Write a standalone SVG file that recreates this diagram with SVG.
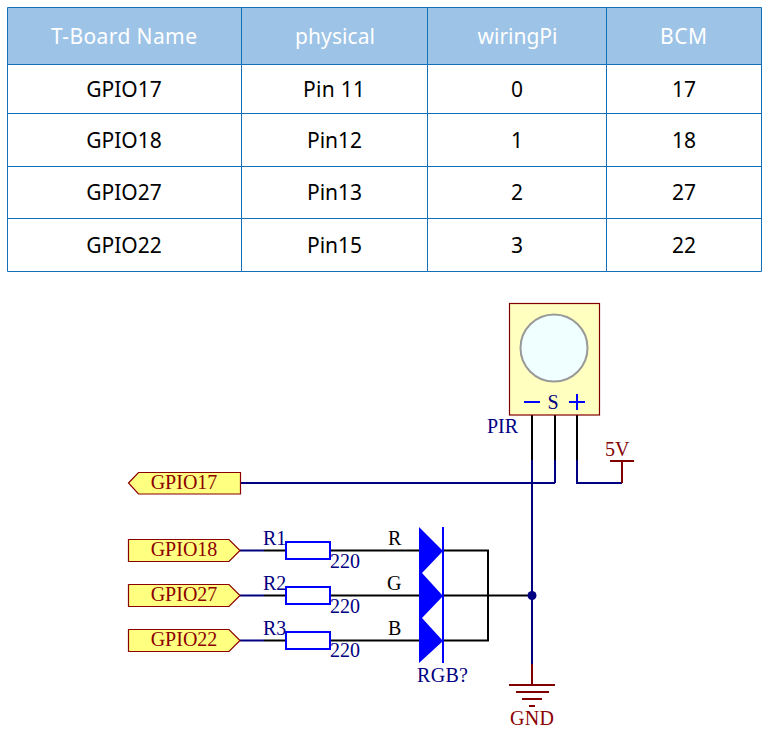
<svg xmlns="http://www.w3.org/2000/svg" width="768" height="743" viewBox="0 0 768 743">
<style>
text{font-family:"Liberation Serif",serif;font-size:20px}
.t{font-family:"Noto Sans","Open Sans",sans-serif;font-size:21px;text-anchor:middle;fill:#000}
.h{fill:#fff}
.g{stroke:#1270b8;stroke-width:1;fill:none}
.lab{fill:#ffff80;stroke:#8b0000;stroke-width:1.2}
.lt{fill:#8b0000;text-anchor:middle}
.b{fill:#000080}
.res{fill:#fff;stroke:#0000ff;stroke-width:2}
.n{stroke:#000080;stroke-width:2;fill:none}
.k{stroke:#000;stroke-width:2;fill:none}
.r{stroke:#800000;stroke-width:2;fill:none}
</style>
<rect width="768" height="743" fill="#fff"/>
<g id="table">
<rect x="7.5" y="7.5" width="754" height="57" fill="#9dc3e6"/>
<path class="g" d="M7.5 7.5H761.5V271.5H7.5ZM7.5 64.5H761.5M7.5 113.5H761.5M7.5 166.5H761.5M7.5 218.5H761.5M241.5 7.5V271.5M427.5 7.5V271.5M606.5 7.5V271.5"/>
<text class="t h" x="124" y="44" textLength="146">T-Board Name</text><text class="t h" x="335" y="44" textLength="80">physical</text><text class="t h" x="517.5" y="44" textLength="80">wiringPi</text><text class="t h" x="683.5" y="44" textLength="47">BCM</text>
<text class="t" x="124" y="97">GPIO17</text><text class="t" x="334" y="97" textLength="62">Pin 11</text><text class="t" x="517" y="97">0</text><text class="t" x="684" y="97">17</text>
<text class="t" x="124" y="148">GPIO18</text><text class="t" x="334.5" y="148">Pin12</text><text class="t" x="517" y="148">1</text><text class="t" x="684" y="148">18</text>
<text class="t" x="124" y="200">GPIO27</text><text class="t" x="334.5" y="200">Pin13</text><text class="t" x="517" y="200">2</text><text class="t" x="684" y="200">27</text>
<text class="t" x="124" y="253">GPIO22</text><text class="t" x="334.5" y="253">Pin15</text><text class="t" x="517" y="253">3</text><text class="t" x="684" y="253">22</text>
</g>
<g id="connectors">
<path class="k" d="M532 415V460M555 415V460M577 415V460"/>
<path class="n" d="M532 460V664M555 460V483M241 483H555M577 460V483H622"/>
<path class="r" d="M622 483V461M610 461H634M532 664V685M509 685H555M516 692H549M522 699H542M529 706H535"/>
<path class="n" d="M240 550.5H264M240 595.5H264M240 640.5H264"/>
<path class="k" d="M264 550.5H286M264 595.5H286M264 640.5H286M330 550.5H420M330 595.5H420M330 640.5H420M443 550.5H488V640.5H443M443 595.5H532"/>
<circle class="b" cx="532" cy="595.5" r="4.5"/>
</g>
<g id="pir">
<rect x="509.5" y="303.5" width="90" height="111.5" fill="#ffffc0" stroke="#800000" stroke-width="1.2"/>
<circle cx="554" cy="348" r="33.5" fill="#f0ffff" stroke="#999" stroke-width="2"/>
<path d="M524 402H540M569 402H585M577 394V410" stroke="#0000ff" stroke-width="2" fill="none"/>
<text class="b" x="553" y="409" text-anchor="middle">S</text>
<text class="b" x="487" y="433">PIR</text>
</g>
<g id="vcc"><text x="605" y="456" fill="#800000">5V</text></g>
<g id="gnd"><text x="532" y="725" class="lt" textLength="44">GND</text></g>
<g id="gpio17"><polygon class="lab" points="128.5,483 138.5,472.5 240.5,472.5 240.5,494 138.5,494"/><text class="lt" x="184" y="489">GPIO17</text></g>
<g id="gpio18"><polygon class="lab" points="128.5,539.5 229,539.5 240,550.5 229,561.5 128.5,561.5"/><text class="lt" x="184" y="556">GPIO18</text></g>
<g id="gpio27"><polygon class="lab" points="128.5,584.5 229,584.5 240,595.5 229,606.5 128.5,606.5"/><text class="lt" x="184" y="601">GPIO27</text></g>
<g id="gpio22"><polygon class="lab" points="128.5,629.5 229,629.5 240,640.5 229,651.5 128.5,651.5"/><text class="lt" x="184" y="646">GPIO22</text></g>
<g id="r1"><rect class="res" x="286" y="542" width="44" height="17"/><text class="b" x="263" y="545">R1</text><text class="b" x="330" y="568">220</text></g>
<g id="r2"><rect class="res" x="286" y="587" width="44" height="17"/><text class="b" x="263" y="590">R2</text><text class="b" x="330" y="613">220</text></g>
<g id="r3"><rect class="res" x="286" y="632" width="44" height="17"/><text class="b" x="263" y="635">R3</text><text class="b" x="330" y="657">220</text></g>
<g id="rgb">
<polygon points="419,527 443,551 422,573 443,596 422,618 443,641 419,663" fill="#0000ff"/>
<path d="M443 527V663" stroke="#0000ff" stroke-width="2"/>
<text x="388" y="545">R</text><text x="387" y="590">G</text><text x="388" y="635">B</text>
<text class="b" x="417" y="682" textLength="51">RGB?</text>
</g>
</svg>
